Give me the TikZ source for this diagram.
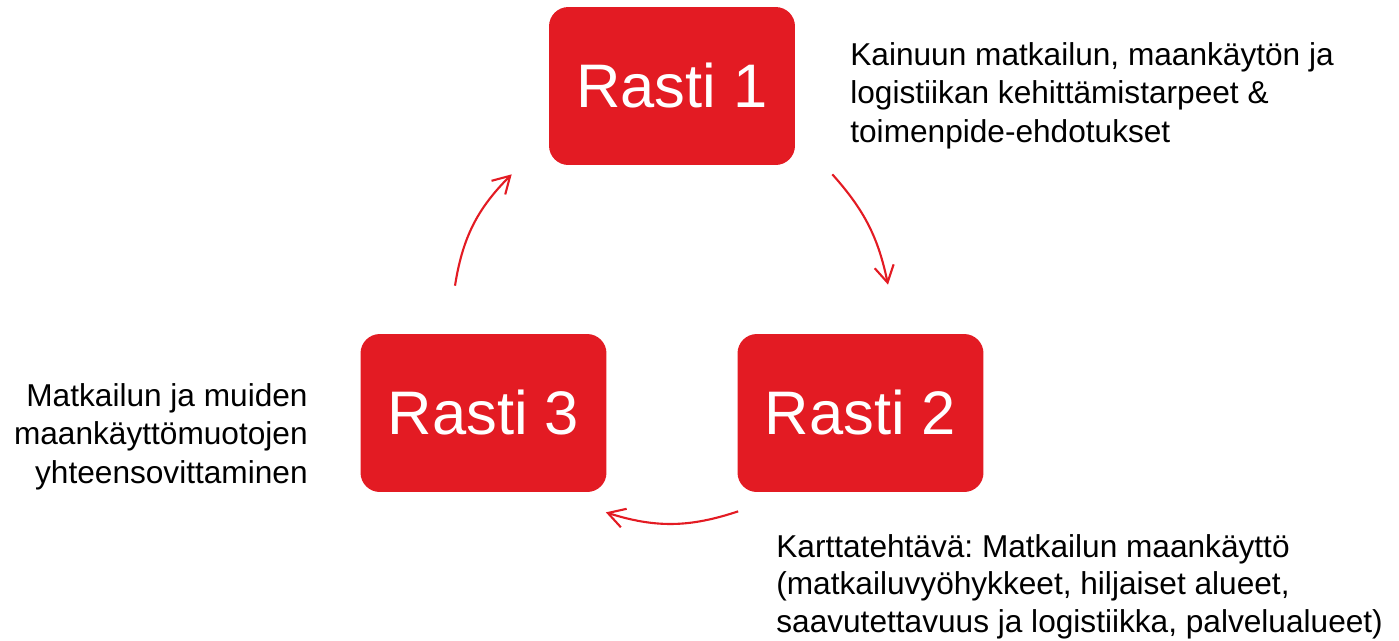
\documentclass[tikz,border=0pt]{standalone}
\usepackage{fontspec}
\setmainfont{Liberation Sans}
\frenchspacing
\usepackage{tikz}
\usetikzlibrary{arrows.meta}
\usetikzlibrary{calc}
\definecolor{rastired}{RGB}{227,27,35}
\tikzstyle{rasti}=[rectangle,rounded corners=11pt,fill=rastired,text=white,minimum width=4.92cm,minimum height=3.16cm,inner sep=0pt,font=\fontsize{35}{40}\selectfont]
\tikzstyle{note}=[inner sep=0pt,font=\fontsize{18}{21.8}\selectfont]
\tikzstyle{kierto}=[draw=rastired,line width=1.2pt,-{Straight Barb[length=9.5pt,width=11pt]}]

\begin{document}
\begin{tikzpicture}[x=0.02cm,y=0.02cm]
      % \draw[help lines] (0,-640) grid (1399,0);
      \useasboundingbox (0,0) rectangle (1399,-640);
      \node [rasti] (R1) at (672,-86) {Rasti 1};
      \node [rasti] (R2) at (860.5,-413) {Rasti 2};
      \node [rasti] (R3) at (483.5,-413) {Rasti 3};

      \draw [kierto] ($(R1.south east)+(37,-9)$) to [bend left=15] ($(R2.north)+(27.5,49)$);
      \draw [kierto] ($(R2.south west)+(1,-19)$) to [bend left=18] ($(R3.south east)+(-1,-20)$);
      \draw [kierto] ($(R3.north)+(-28.5,48)$) to [bend left=18] ($(R1.south west)+(-37,-9)$);

      % base = last line
      \node [note, anchor=base west, align=left] (T1) at (850,-142) {Kainuun matkailun, maankäytön ja\\
        logistiikan kehittämistarpeet \&\\
        toimenpide-ehdotukset};
      \node [note, anchor=base west, align=left, font=\fontsize{18}{21.3}\selectfont] (T2) at (776,-632) {Karttatehtävä: Matkailun maankäyttö\\
        (matkailuvyöhykkeet, hiljaiset alueet,\\
        saavutettavuus ja logistiikka, palvelualueet)};
      \node [note, anchor=base east, align=right] (T3) at (308,-483) {Matkailun ja muiden\\
        maankäyttömuotojen\\
        yhteensovittaminen};
    \end{tikzpicture}
\end{document}
